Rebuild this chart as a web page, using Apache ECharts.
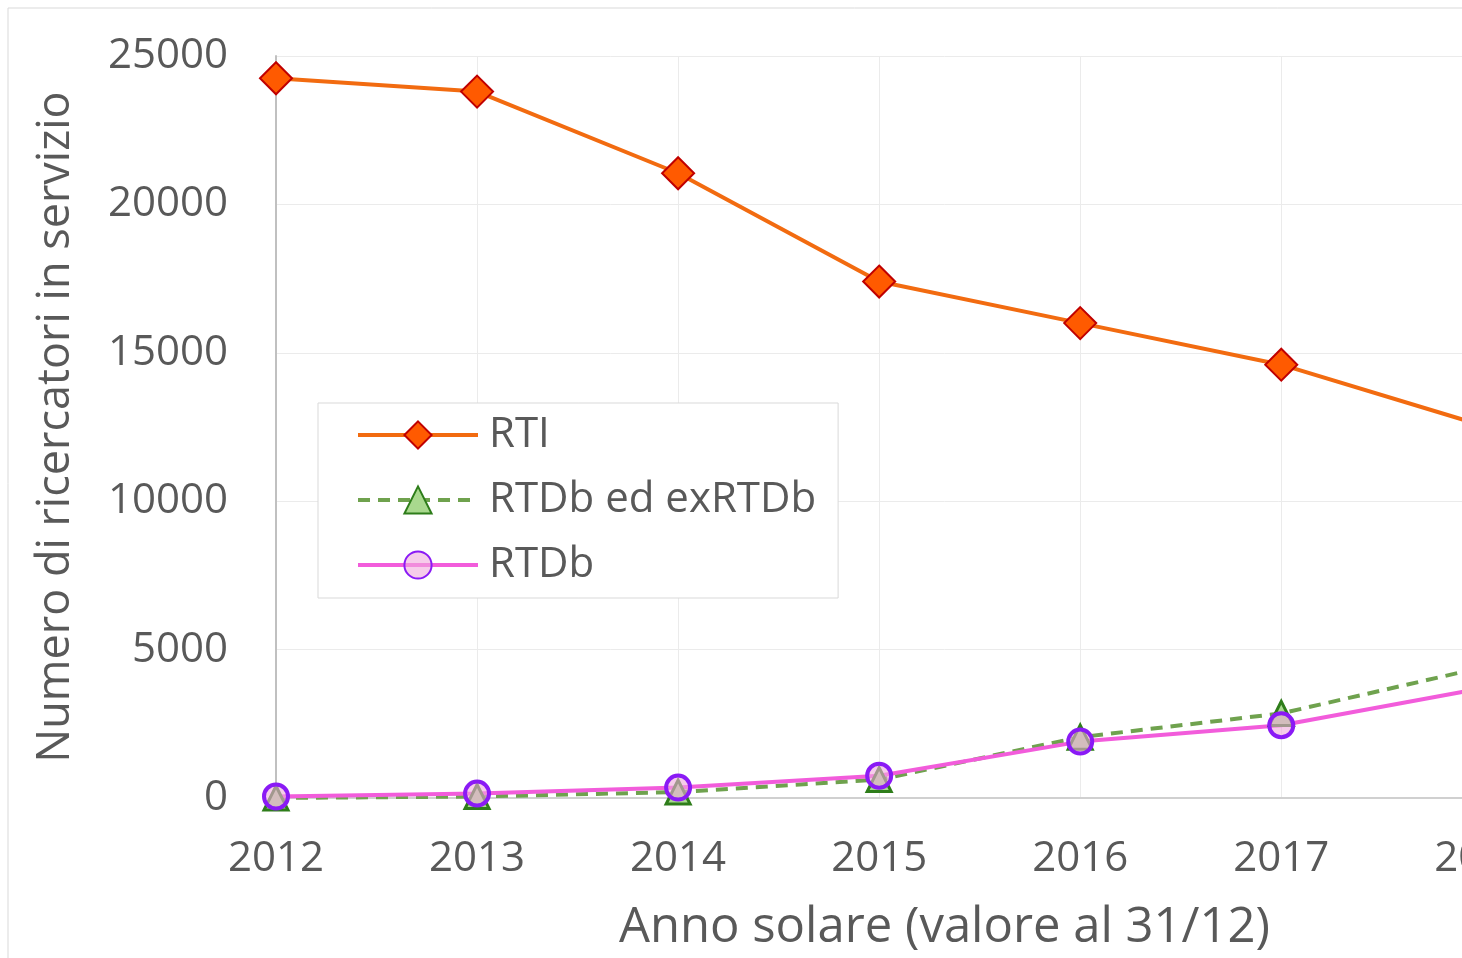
<!DOCTYPE html>
<html>
<head>
<meta charset="utf-8">
<title>Ricercatori in servizio</title>
<script src="https://cdn.jsdelivr.net/npm/echarts@6/dist/echarts.min.js"></script>
<style>
    html, body { margin: 0; padding: 0; background: #fff; overflow: hidden; }
    #chart { width: 1700px; height: 958px; }
</style>
</head>
<body>
<div id="chart"></div>
<script>
    // anni (valore al 31/12)
    var years = [2012, 2013, 2014, 2015, 2016, 2017, 2018];
    var rti = [24250, 23800, 21050, 17400, 16000, 14600, 12550];
    var rtdbEx = [0, 50, 200, 620, 2050, 2850, 4400];
    var rtdb = [50, 150, 350, 750, 1900, 2450, 3700];
    var seriesNames = ['RTI', 'RTDb ed exRTDb', 'RTDb'];

    var pair = function (vals) {
        var res = [];
        for (var i = 0; i < years.length; i++) {
            res.push([years[i], vals[i]]);
        }
        return res;
    };

    var textGrey = '#595959';
    var font = 'Open Sans';

    var chart = echarts.init(document.getElementById('chart'));

    var option = {
        backgroundColor: '#fff',
        animation: false,
        graphic: [{
            type: 'rect',
            shape: { x: 8, y: 8, width: 1800, height: 1100 },
            style: { fill: 'none', stroke: '#d9d9d9', lineWidth: 1 },
            z: -1
        }],
        grid: {
            left: 276,
            top: 56,
            right: 87,
            bottom: 159
        },
        legend: {
            orient: 'vertical',
            left: 318,
            top: 403,
            padding: [11, 22, 12, 38],
            itemWidth: 120,
            itemHeight: 34,
            itemGap: 23,
            itemTextGap: 14,
            borderColor: '#d9d9d9',
            borderWidth: 1,
            backgroundColor: '#fff',
            lineStyle: { width: 4 },
            textStyle: {
                fontFamily: font,
                fontSize: 42,
                lineHeight: 42,
                color: textGrey,
                padding: [0, 0, 0, 6]
            },
            data: seriesNames
        },
        xAxis: {
            type: 'value',
            min: 2012,
            max: 2018.65,
            interval: 1,
            name: 'Anno solare (valore al 31/12)',
            nameLocation: 'middle',
            nameGap: 106,
            nameTextStyle: { fontFamily: font, fontSize: 49, color: textGrey },
            axisLine: { lineStyle: { color: '#d0d0d0', width: 2 } },
            axisTick: { show: false },
            axisLabel: {
                fontFamily: font,
                fontSize: 42,
                color: textGrey,
                margin: 40,
                formatter: function (v) {
                    return v % 1 === 0 ? String(v) : '';
                }
            },
            splitLine: { show: true, lineStyle: { color: '#ebebeb', width: 1 } }
        },
        yAxis: {
            type: 'value',
            min: 0,
            max: 25000,
            interval: 5000,
            name: 'Numero di ricercatori in servizio',
            nameLocation: 'middle',
            nameGap: 197,
            nameTextStyle: { fontFamily: font, fontSize: 45, color: textGrey },
            axisLine: { show: true, lineStyle: { color: '#c0c0c0', width: 2 } },
            axisTick: { show: false },
            axisLabel: {
                fontFamily: font,
                fontSize: 42,
                color: textGrey,
                margin: 48,
                formatter: function (v) {
                    return String(v);
                }
            },
            splitLine: { show: true, lineStyle: { color: '#ebebeb', width: 1 } }
        },
        series: [
            {
                name: seriesNames[0],
                type: 'line',
                data: pair(rti),
                symbol: 'diamond',
                symbolSize: [32, 32],
                lineStyle: { color: '#f26b10', width: 4 },
                itemStyle: { color: '#ff5a00', borderColor: '#c00000', borderWidth: 2 }
            },
            {
                name: seriesNames[1],
                type: 'line',
                data: pair(rtdbEx),
                symbol: 'triangle',
                symbolSize: 24,
                lineStyle: { color: '#6fa24e', width: 4, type: [12, 8] },
                itemStyle: { color: '#a9d98e', borderColor: '#2e7d1a', borderWidth: 3 }
            },
            {
                name: seriesNames[2],
                type: 'line',
                data: pair(rtdb),
                symbol: 'circle',
                symbolSize: 24,
                lineStyle: { color: '#f25cdb', width: 4 },
                itemStyle: { color: 'rgba(240,170,220,0.6)', borderColor: '#8a1af5', borderWidth: 4 }
            }
        ]
    };

    chart.setOption(option);
</script>
</body>
</html>
